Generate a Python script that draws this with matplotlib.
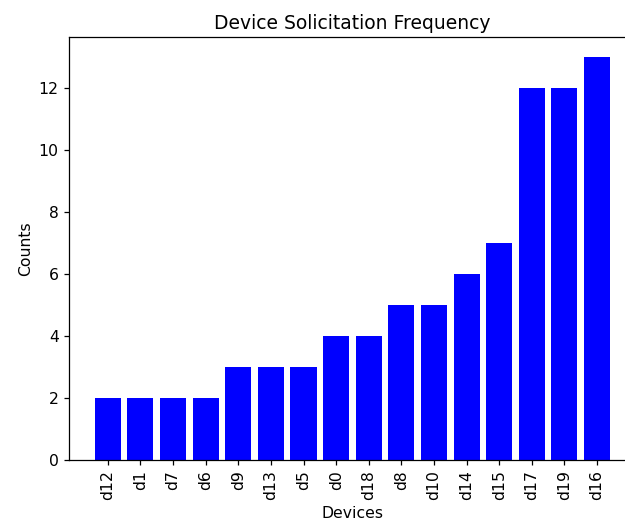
import matplotlib
matplotlib.use('Agg')
from matplotlib import pyplot as plt

devices = ['d12', 'd1', 'd7', 'd6', 'd9', 'd13', 'd5', 'd0', 'd18', 'd8',
           'd10', 'd14', 'd15', 'd17', 'd19', 'd16']
counts = [2, 2, 2, 2, 3, 3, 3, 4, 4, 5, 5, 6, 7, 12, 12, 13]

# original looks like a default plot scaled up ~1.125x
s = 1.125
plt.rcParams['font.size'] = 10 * s
plt.rcParams['axes.titlesize'] = 12 * s
plt.rcParams['axes.linewidth'] = 0.8 * s
plt.rcParams['xtick.major.size'] = 3.5 * s
plt.rcParams['ytick.major.size'] = 3.5 * s
plt.rcParams['xtick.major.width'] = 0.8 * s
plt.rcParams['ytick.major.width'] = 0.8 * s

fig = plt.figure(figsize=(6.25, 5.25), dpi=100)
# axes runs a bit past the right edge, like the cropped original
ax = fig.add_axes([0.1104, 0.1238, 0.907, 0.806])
ax.bar(devices, counts, color='blue')
ax.set_xlabel('Devices')
ax.set_ylabel('Counts')
ax.set_title('Device Solicitation Frequency')
plt.xticks(rotation=90)
fig.savefig('out.png', dpi=100)
